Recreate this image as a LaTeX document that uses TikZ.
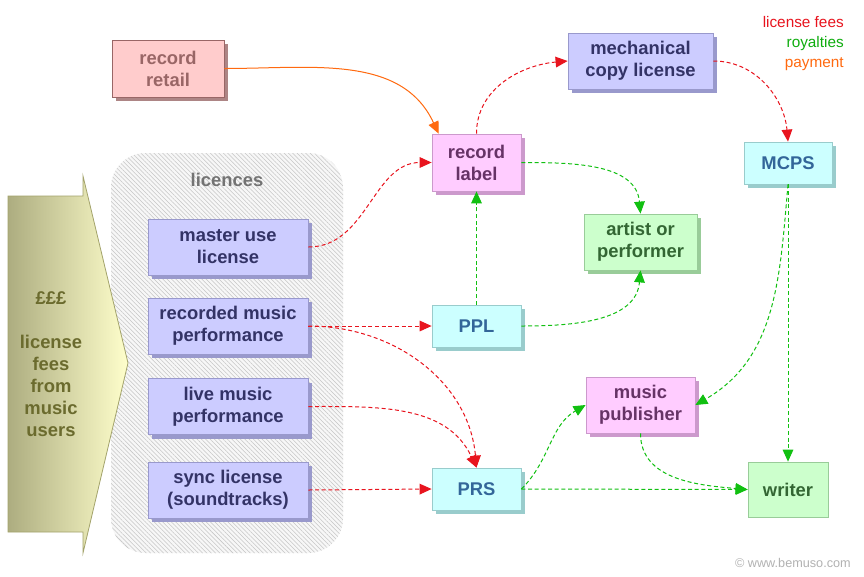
\documentclass[tikz,border=0pt]{standalone}
\usepackage{fontspec}
\setmainfont{Liberation Sans}
\usetikzlibrary{arrows.meta,shadows,patterns.meta,calc}
\definecolor{lilfill}{HTML}{CCCCFF}\definecolor{lilline}{HTML}{9999CC}\definecolor{liltext}{HTML}{333366}
\definecolor{pkfill}{HTML}{FFCCFF}\definecolor{pkline}{HTML}{CC99CC}\definecolor{pktext}{HTML}{663366}
\definecolor{cyfill}{HTML}{CCFFFF}\definecolor{cyline}{HTML}{99CCCC}\definecolor{cytext}{HTML}{336699}
\definecolor{gnfill}{HTML}{CCFFCC}\definecolor{gnline}{HTML}{99CC99}\definecolor{gntext}{HTML}{336633}
\definecolor{rtfill}{HTML}{FFCCCC}\definecolor{rtline}{HTML}{996666}\definecolor{rttext}{HTML}{996666}
\definecolor{redln}{HTML}{E8141E}\definecolor{grnln}{HTML}{11C011}\definecolor{orgln}{HTML}{FF6A10}
\definecolor{olivetext}{HTML}{6B6B2E}
\definecolor{arrleft}{HTML}{ADAD80}\definecolor{arrright}{HTML}{FFFFCC}\definecolor{arrline}{HTML}{A3A36B}
\begin{document}
\begin{tikzpicture}[x=0.75pt,y=-0.75pt,
  box/.style={draw, line width=0.6pt, align=center, inner sep=0pt,
    font=\fontsize{13.8}{16.5}\selectfont\bfseries},
  shad/.style={drop shadow={shadow xshift=3pt, shadow yshift=-3pt, fill=#1, opacity=1}},
  lic/.style={box, fill=lilfill, draw=lilline, text=liltext, shad=lilline,
    minimum width=120pt, minimum height=42pt},
  pk/.style={box, fill=pkfill, draw=pkline, text=pktext, shad=pkline},
  cy/.style={box, fill=cyfill, draw=cyline, text=cytext, shad=cyline},
  gn/.style={box, fill=gnfill, draw=gnline, text=gntext},
  con/.style={line width=0.75pt, dash pattern=on 3pt off 2pt,
    -{Triangle[length=9pt,width=8pt]}},
  redc/.style={con, draw=redln, -{Triangle[length=9pt,width=8pt,fill=redln]}},
  grnc/.style={con, draw=grnln},
  orgc/.style={line width=0.75pt, draw=orgln, -{Triangle[length=9pt,width=8pt]}}
]
\useasboundingbox (0,0) rectangle (864,576);
\fill[white] (0,0) rectangle (864,576);

% licences container
\path[rounded corners=26pt, fill=gray!6,
  postaction={pattern={Lines[angle=-45,distance=2.3pt,line width=0.4pt]}, pattern color=gray!45}]
  (111,153) rectangle (343,553);
\node[font=\fontsize{13.8}{16.5}\selectfont\bfseries, text=black!55] (lichead) at (227,180) {licences};

% big arrow
\path[left color=arrleft, right color=arrright, draw=arrline, line width=0.6pt]
  (8,196) -- (83,196) -- (83,176) -- (128,363) -- (83,553) -- (83,532) -- (8,532) -- cycle;
\node[font=\fontsize{13.8}{16.5}\selectfont\bfseries, text=olivetext, align=center] (fees) at (51,364)
  {£££\\[16.5pt]license\\fees\\from\\music\\users};

% licence boxes
\node[lic] (master) at (228,247) {master use\\license};
\node[lic] (recorded) at (228,326) {recorded music\\performance};
\node[lic] (live) at (228,406.5) {live music\\performance};
\node[lic] (sync) at (228,490) {sync license\\(soundtracks)};

% others
\node[box, fill=rtfill, draw=rtline, text=rttext, shad=rtline!80!white,
  minimum width=84pt, minimum height=42.75pt] (retail) at (168,68.5) {record\\retail};
\node[pk, minimum width=66.75pt, minimum height=42.75pt] (label) at (476.5,162.5) {record\\label};
\node[lic, minimum width=108.75pt, minimum height=42pt] (mech) at (640.5,61) {mechanical\\copy license};
\node[cy, minimum width=66pt, minimum height=31.5pt] (mcps) at (788,163) {MCPS};
\node[gn, shad=gnline, minimum width=84.75pt, minimum height=42pt] (artist) at (640.5,242) {artist or\\performer};
\node[cy, minimum width=66.75pt, minimum height=31.5pt] (ppl) at (476.5,326) {PPL};
\node[cy, minimum width=66.75pt, minimum height=31.5pt] (prs) at (476.5,489) {PRS};
\node[pk, minimum width=81.75pt, minimum height=42pt] (pub) at (640.5,405) {music\\publisher};
\node[gn, minimum width=60pt, minimum height=41.25pt] (writer) at (788,489.5) {writer};

% legend
\node[anchor=north east, align=right, inner sep=0pt, font=\fontsize{11.5}{15}\selectfont] (legend) at (844,16)
  {\textcolor{redln}{license fees}\\\textcolor{grnln!90!black}{royalties}\\\textcolor{orgln}{payment}};
\node[anchor=east, inner sep=0pt, text=black!30, font=\fontsize{9.5}{11}\selectfont] (copy) at (851,563)
  {© www.bemuso.com};

% red connectors
\draw[redc] (master.east) to[out=0,in=180] (label.west);
\draw[redc] (recorded.east) -- (ppl.west);
\draw[redc] (recorded.east) to[out=0,in=95] (prs.north);
\draw[redc] (live.east) to[out=0,in=115] (prs.north);
\draw[redc] (sync.east) -- (prs.west);
\draw[redc] (label.north) to[out=90,in=185] (mech.west);
\draw[redc] (mech.east) to[out=0,in=95] (mcps.north);

% orange connector
\draw[orgc] (retail.east) to[out=0,in=115] ([xshift=5.25pt]label.north west);

% green connectors
\draw[grnc] (ppl.north) -- (label.south);
\draw[grnc] (label.east) to[out=0,in=95] (artist.north);
\draw[grnc] (ppl.east) to[out=0,in=-95] (artist.south);
\draw[grnc] (mcps.south) to[out=-95,in=30] (pub.east);
\draw[grnc] (mcps.south) -- (writer.north);
\draw[grnc] (prs.east) to[out=45,in=210] (pub.west);
\draw[grnc] (prs.east) -- (writer.west);
\draw[grnc] (pub.south) to[out=-90,in=175] (writer.west);
\end{tikzpicture}
\end{document}
